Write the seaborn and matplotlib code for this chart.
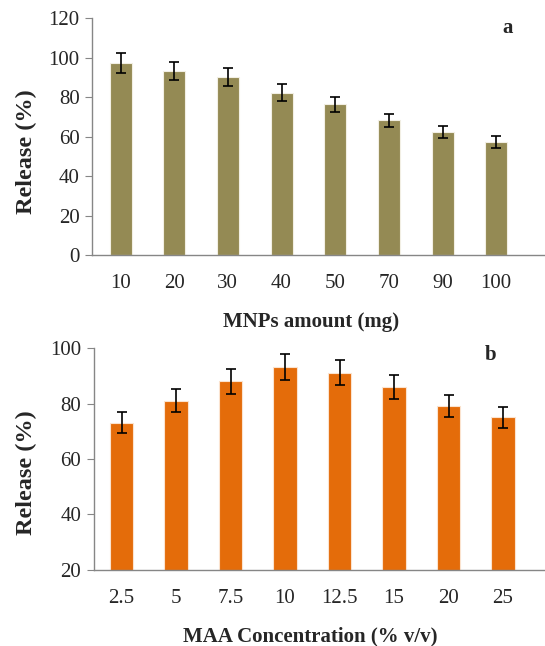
import numpy as np
import pandas as pd
import matplotlib.pyplot as plt
import seaborn as sns

# panel a: MNPs amount
mnps_amount = ["10", "20", "30", "40", "50", "70", "90", "100"]
release_a = [97.2, 93.3, 90.3, 82.2, 76.3, 68.2, 62.2, 57.2]
err_a = [4.9, 4.6, 4.5, 4.2, 3.8, 3.4, 3.0, 2.9]

# panel b: MAA concentration
maa_conc = ["2.5", "5", "7.5", "10", "12.5", "15", "20", "25"]
release_b = [73.1, 81.1, 88.0, 93.1, 91.1, 86.1, 79.1, 75.1]
err_b = [3.7, 4.0, 4.4, 4.7, 4.5, 4.3, 4.0, 3.8]

sns.set_style("white")
plt.rcParams['font.family'] = ['Liberation Serif', 'DejaVu Serif']

fig = plt.figure(figsize=(5.45, 6.46), dpi=100)
ax_a = fig.add_axes([0.169, 0.605, 0.831, 0.367])
ax_b = fig.add_axes([0.172, 0.118, 0.828, 0.343])

df_a = pd.DataFrame({"x": mnps_amount, "y": release_a})
df_b = pd.DataFrame({"x": maa_conc, "y": release_b})

sns.barplot(data=df_a, x="x", y="y", order=mnps_amount, color="#948A54",
            saturation=1, width=0.41, edgecolor="#f2efe4", linewidth=0.8,
            errorbar=None, ax=ax_a)
sns.barplot(data=df_b, x="x", y="y", order=maa_conc, color="#E46C0A",
            saturation=1, width=0.43, edgecolor="#fbe3cf", linewidth=0.8,
            errorbar=None, ax=ax_b)

ax_a.errorbar(np.arange(len(mnps_amount)), release_a, yerr=err_a, fmt="none",
              ecolor="black", elinewidth=1.2, capsize=3.5, capthick=1.2)
ax_b.errorbar(np.arange(len(maa_conc)), release_b, yerr=err_b, fmt="none",
              ecolor="black", elinewidth=1.2, capsize=3.5, capthick=1.2)

def style(ax, ylim, yticks, xlim, xlabel, letter, lx, ly, xlab_x, ylab_xy):
    ax.set_ylim(*ylim)
    ax.set_yticks(yticks)
    ax.set_xlim(*xlim)
    for s in ["top", "right"]:
        ax.spines[s].set_visible(False)
    for s in ["left", "bottom"]:
        ax.spines[s].set_color("#868686")
        ax.spines[s].set_linewidth(1.0)
    ax.tick_params(axis="y", which="both", left=True, length=5, color="#868686",
                   labelsize=15, pad=4)
    ax.tick_params(axis="x", bottom=False, labelsize=15, pad=10)
    ax.set_xlabel(xlabel, fontsize=15, fontweight="bold", labelpad=14)
    ax.xaxis.label.set_x(xlab_x)
    ax.set_ylabel("Release (%)", fontsize=17.5, fontweight="bold")
    ax.yaxis.set_label_coords(*ylab_xy)
    ax.text(lx, ly, letter, transform=ax.transAxes, fontsize=15,
            fontweight="bold", ha="center", va="center")

style(ax_a, (0, 120), range(0, 121, 20), (-0.53, 7.91),
      "MNPs amount (mg)", "a", 0.917, 0.96, 0.483, (-0.121, 0.435))
style(ax_b, (20, 100), range(20, 101, 20), (-0.51, 7.77),
      "MAA Concentration (% v/v)", "b", 0.88, 0.97, 0.479, (-0.126, 0.437))

fig.savefig("out.png", dpi=100)
